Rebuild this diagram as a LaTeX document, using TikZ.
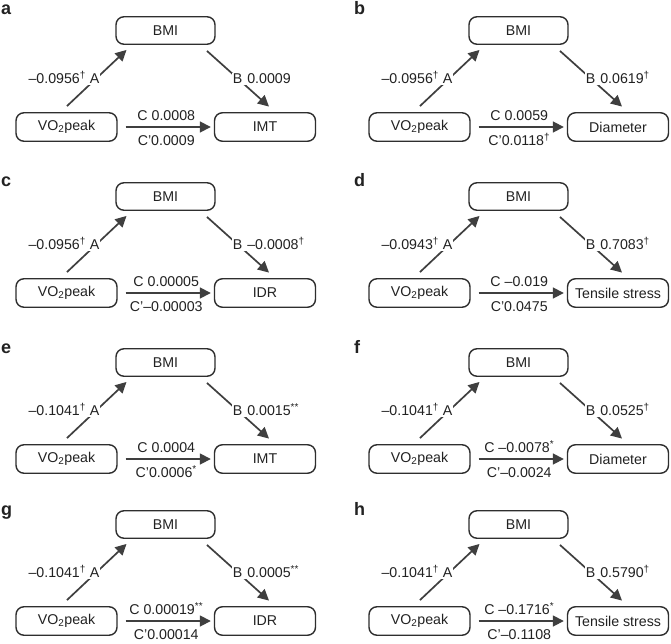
\documentclass[tikz,border=0pt]{standalone}
\usepackage{fontspec}
\setmainfont{Liberation Sans}
\usetikzlibrary{arrows.meta}
\definecolor{boxline}{HTML}{2E2E2E}
\definecolor{arrowcol}{HTML}{3F3F3F}
\definecolor{txt}{HTML}{222222}
\tikzset{
  varbox/.style={draw=boxline, line width=1.4pt, rounded corners=8pt, minimum width=101pt,
    minimum height=28.5pt, inner sep=0pt, font=\fontsize{14.2}{16}\selectfont, text=txt},
  medbox/.style={varbox, minimum width=99pt, minimum height=27.5pt},
  patharrow/.style={draw=arrowcol, line width=1.7pt, -{Triangle[length=11pt,width=11pt]}},
  coef/.style={font=\fontsize{14.2}{16}\selectfont, text=txt, inner sep=1pt},
  maskcoef/.style={coef, fill=white},
  panellabel/.style={font=\fontsize{18}{20}\selectfont\bfseries, text=txt, inner sep=0pt, anchor=base west},
}
\newcommand{\dg}{\textsuperscript{†}}
\newcommand{\mediationpanel}[9]{%
  \begin{scope}[shift={(#2,#3)}]
    \node[panellabel] (#1-letter) at (1,#4) {#1};
    \node[medbox] (#1-bmi) at (165.5,30.5) {BMI};
    \node[varbox] (#1-vo) at (66.5,127) {VO\textsubscript{2}peak};
    \node[varbox] (#1-out) at (265,127) {#9};
    \draw[patharrow] ([shift={(0.5,-6)}]#1-vo.north) --
      node[maskcoef, pos=0.4, anchor=base east, xshift=10.4pt] (#1-alab) {#5 A}
      ([shift={(-39,5)}]#1-bmi.south);
    \draw[patharrow] ([shift={(41.5,6)}]#1-bmi.south) --
      node[maskcoef, pos=0.59, anchor=base west, xshift=-12.6pt] (#1-blab) {B\hspace{5pt}#6}
      ([shift={(4,-5.5)}]#1-out.north);
    \draw[patharrow] ([xshift=8pt]#1-vo.east) --
      node[coef, midway, anchor=base, yshift=6.3pt, xshift=-2pt] (#1-clab) {C #7}
      node[coef, midway, anchor=base, yshift=-18.5pt, xshift=-2pt] (#1-cplab) {C’#8}
      ([xshift=-3pt]#1-out.west);
  \end{scope}}
\begin{document}
\begin{tikzpicture}[x=1pt, y=-1pt]
  \useasboundingbox[fill=white] (0,0) rectangle (671,644);
  \mediationpanel{a}{0}{0}{15}{–0.0956\dg}{0.0009}{0.0008}{0.0009}{IMT}
  \mediationpanel{b}{353}{0}{15}{–0.0956\dg}{0.0619\dg}{0.0059}{0.0118\dg}{Diameter}
  \mediationpanel{c}{0}{166}{21}{–0.0956\dg}{–0.0008\dg}{0.00005}{–0.00003}{IDR}
  \mediationpanel{d}{353}{166}{21}{–0.0943\dg}{0.7083\dg}{–0.019}{0.0475}{Tensile stress}
  \mediationpanel{e}{0}{332}{21}{–0.1041\dg}{0.0015\textsuperscript{**}}{0.0004}{0.0006\textsuperscript{*}}{IMT}
  \mediationpanel{f}{353}{332}{21}{–0.1041\dg}{0.0525\dg}{–0.0078\textsuperscript{*}}{–0.0024}{Diameter}
  \mediationpanel{g}{0}{494}{21}{–0.1041\dg}{0.0005\textsuperscript{**}}{0.00019\textsuperscript{**}}{0.00014}{IDR}
  \mediationpanel{h}{353}{494}{21}{–0.1041\dg}{0.5790\dg}{–0.1716\textsuperscript{*}}{–0.1108}{Tensile stress}
\end{tikzpicture}
\end{document}
